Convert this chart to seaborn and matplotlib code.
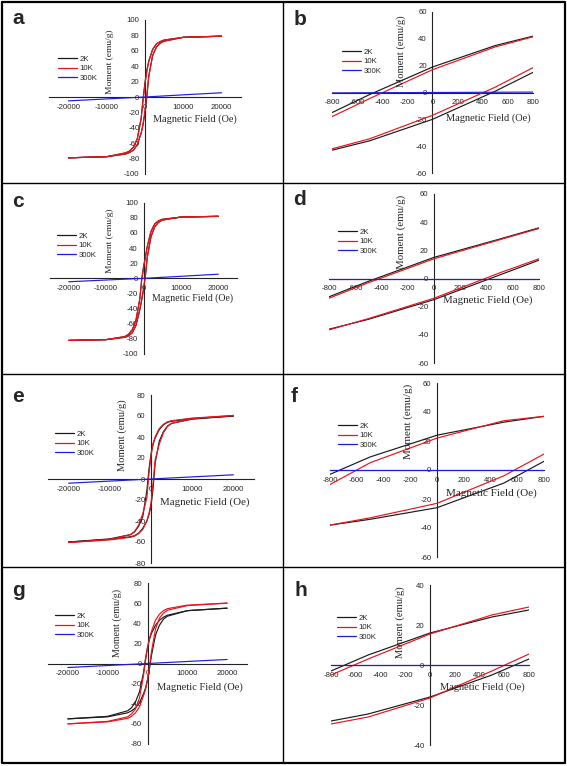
import matplotlib
matplotlib.use("Agg")
import matplotlib.pyplot as plt
from matplotlib.lines import Line2D
from matplotlib.ticker import MultipleLocator
import numpy as np
import pandas as pd
import seaborn as sns

# ---------------- data ----------------
H_FULL = [-20000, -10000, -5000, -4000, -3000, -2000, -1000, -500, 0,
          500, 1000, 2000, 3000, 4000, 5000, 10000, 20000]
H_ZOOM = [-800, -500, 0, 500, 800]
H_300_FULL = [-20000, -10000, 0, 10000, 20000]
H_300_ZOOM = [-800, 800]
TEMPS = ["2K", "10K", "300K"]

# panel a (full field)
A_2K_DOWN = [-79, -77.5, -72.5, -70, -65, -54, -28, -2, 19, 35, 47, 62, 69, 72, 74, 77.5, 79]
A_2K_UP = [-79, -77.5, -74, -72, -69, -62, -47, -36, -20, 1, 28, 54, 65, 70, 72.5, 77.5, 79]
A_10K_DOWN = [-79, -77.5, -72.5, -70, -65, -54, -27, -4.5, 17, 34, 46.5, 61.5, 69, 72, 74, 77.5, 79]
A_10K_UP = [-79, -77.5, -74, -72, -69, -61.5, -46.5, -34.5, -17, 4, 27, 54, 65, 70, 72.5, 77.5, 79]
A_300K = [-5, -2.5, 0, 2.8, 5.5]

# panel b (low field)
B_2K_DOWN = [-15, -1.5, 19, 35, 42]
B_2K_UP = [-43, -36, -20, 1, 15]
B_10K_DOWN = [-18, -4.5, 17, 34, 41.5]
B_10K_UP = [-42, -34.5, -17, 4, 18.5]
B_300K = [-0.3, 0.3]

# panel c (full field)
C_2K_DOWN = [-82, -81, -77, -74, -68, -55, -28, -2, 15, 28, 42, 62, 72, 76, 78, 81, 82]
C_2K_UP = [-82, -81, -78, -76, -72, -62, -42, -29, -15, 2.5, 28, 55, 68, 74, 77, 81, 82]
C_10K_DOWN = [-82, -81, -77, -74, -68, -55, -27, -3, 14, 27.5, 41.5, 62, 72, 76, 78, 81, 82]
C_10K_UP = [-82, -81, -78, -76, -72, -62, -41.5, -28.5, -14, 4, 27, 55, 68, 74, 77, 81, 82]
C_300K = [-4.5, -2.2, 0, 2.7, 5.5]

# panel d (low field)
D_2K_DOWN = [-13, -2, 15, 28, 36]
D_2K_UP = [-36, -29, -15, 2.5, 13]
D_10K_DOWN = [-14, -3, 14, 27.5, 35.5]
D_10K_UP = [-36.5, -28.5, -14, 4, 14]
D_300K = [0, 0]

# panel e (full field)
E_2K_DOWN = [-60, -57, -53, -50.5, -45, -36, -11, 9, 24, 33, 39, 47, 51.5, 54, 55, 57.5, 60]
E_2K_UP = [-60, -57.5, -55, -54, -51.5, -47, -40, -34, -26, -9, 15, 36, 45, 50.5, 53, 57, 60]
E_10K_DOWN = [-60.5, -57.5, -53, -50, -44, -33, -18, 5, 22, 34, 40, 48, 52, 54.5, 55.5, 58, 60.5]
E_10K_UP = [-60.5, -58, -55.5, -54.5, -52, -48, -40, -33, -23, -4, 18, 33, 44, 50, 53, 57.5, 60.5]
E_300K = [-4, -2, 0, 2, 4]

# panel f (low field)
F_2K_DOWN = [-3, 9, 24, 33, 37]
F_2K_UP = [-38, -34, -26, -9, 6]
F_10K_DOWN = [-10, 5, 22, 34, 37]
F_10K_UP = [-38, -33, -23, -4, 11]
F_300K = [0, 0]

# panel g (full field)
G_2K_DOWN = [-55, -52.5, -47, -44, -38, -28, -9, 5, 16, 24, 30, 38, 43, 46, 48, 52.5, 55]
G_2K_UP = [-55, -53, -49, -47, -44, -39, -30, -24.5, -16, -5, 8, 28, 38, 44, 47, 52.5, 55]
G_10K_DOWN = [-60, -57.5, -53, -50, -45, -34, -12, 3, 15.5, 25, 32, 43, 49, 52.5, 54.5, 58, 60]
G_10K_UP = [-60, -58, -54.5, -52.5, -49, -43, -32, -26, -16.5, -3, 12, 34, 45, 50, 53, 57.5, 60]
G_300K = [-4, -2, 0, 2, 4]

# panel h (low field)
PH_2K_DOWN = [-3, 5, 16, 24, 27.5]
PH_2K_UP = [-28, -24.5, -16, -5, 3]
PH_10K_DOWN = [-5, 3, 15.5, 25, 29]
PH_10K_UP = [-29.5, -26, -16.5, -3, 5.5]
PH_300K = [0, 0]

PANEL_LETTERS = ["a", "b", "c", "d", "e", "f", "g", "h"]
XLABEL = "Magnetic Field (Oe)"
YLABEL = "Moment (emu/g)"


def panel_frame(kind, d2, u2, d10, u10, p300):
    h = H_FULL if kind == "full" else H_ZOOM
    h3 = H_300_FULL if kind == "full" else H_300_ZOOM
    rows = []
    for temp, branch, hs, ms in [("2K", "down", h[::-1], d2[::-1]), ("2K", "up", h, u2),
                                 ("10K", "down", h[::-1], d10[::-1]), ("10K", "up", h, u10),
                                 ("300K", "single", h3, p300)]:
        for hv, mv in zip(hs, ms):
            rows.append((temp, branch, hv, mv))
    return pd.DataFrame(rows, columns=["T", "branch", "H", "M"])


DATA = [
    ("full", A_2K_DOWN, A_2K_UP, A_10K_DOWN, A_10K_UP, A_300K),
    ("zoom", B_2K_DOWN, B_2K_UP, B_10K_DOWN, B_10K_UP, B_300K),
    ("full", C_2K_DOWN, C_2K_UP, C_10K_DOWN, C_10K_UP, C_300K),
    ("zoom", D_2K_DOWN, D_2K_UP, D_10K_DOWN, D_10K_UP, D_300K),
    ("full", E_2K_DOWN, E_2K_UP, E_10K_DOWN, E_10K_UP, E_300K),
    ("zoom", F_2K_DOWN, F_2K_UP, F_10K_DOWN, F_10K_UP, F_300K),
    ("full", G_2K_DOWN, G_2K_UP, G_10K_DOWN, G_10K_UP, G_300K),
    ("zoom", PH_2K_DOWN, PH_2K_UP, PH_10K_DOWN, PH_10K_UP, PH_300K),
]

# ---------------- layout (pixels) ----------------
W, HGT = 567, 766
LAYOUT = [
    ((49.3, 20, 240.7, 174), 100, (110, 62, 6.8), (153, 119, 7.4), (58, 60), (12, 24)),
    ((332, 12, 533, 173), 60, (401, 51, 7.6), (446, 118, 7.5), (342, 53), (294, 25)),
    ((50, 202.7, 237, 354), 100, (110, 241, 6.8), (152, 298, 7.1), (57, 237), (12, 207)),
    ((329, 194, 539, 363), 60, (401, 232, 7.8), (443, 300, 7.8), (338, 233), (293, 205)),
    ((48, 395, 254, 563), 80, (122, 435, 7.6), (160, 502, 7.8), (55, 435), (12, 402)),
    ((330, 383, 544, 557), 60, (408, 421, 8.0), (446, 493, 8.0), (338, 427), (291, 402)),
    ((48, 583, 247, 744), 80, (117, 623, 7.2), (157, 687, 7.6), (55, 617), (12, 596)),
    ((331, 585, 529, 745), 40, (400, 622, 7.6), (440, 687, 7.5), (337, 619), (294, 596)),
]

COLORS = {"2K": "#1a1a1a", "10K": "#e8141c", "300K": "#1c1ce0"}

sns.set_style("white")
plt.rcParams["font.family"] = ["Liberation Sans", "DejaVu Sans"]
plt.rcParams["axes.unicode_minus"] = False

fig = plt.figure(figsize=(W / 100, HGT / 100), dpi=100)
fig.patch.set_facecolor("white")


def fx(px):
    return px / W


def fy(py):
    return 1 - py / HGT


for i, (spec, lay) in enumerate(zip(DATA, LAYOUT)):
    kind = spec[0]
    df = panel_frame(*spec)
    (l, t, r, b), ylim, mlab, flab, leg, let = lay
    ax = fig.add_axes([fx(l), fy(b), (r - l) / W, (b - t) / HGT])
    ax.set_facecolor("none")
    for temp in TEMPS:
        sub = df[df["T"] == temp]
        sns.lineplot(data=sub, x="H", y="M", units="branch", estimator=None, sort=False,
                     color=COLORS[temp], lw=0.85, ax=ax, legend=False, zorder=3)
    if kind == "full":
        ax.set_xlim(-25000, 25000)
        ax.xaxis.set_major_locator(MultipleLocator(10000))
        ax.xaxis.set_minor_locator(MultipleLocator(5000))
    else:
        ax.set_xlim(-800, 800)
        ax.xaxis.set_major_locator(MultipleLocator(200))
        ax.xaxis.set_minor_locator(MultipleLocator(100))
    ax.set_ylim(-ylim, ylim)
    ax.yaxis.set_major_locator(MultipleLocator(20))
    ax.yaxis.set_minor_locator(MultipleLocator(10))
    ax.spines["left"].set_position(("data", 0))
    ax.spines["bottom"].set_position(("data", 0))
    ax.spines["top"].set_visible(False)
    ax.spines["right"].set_visible(False)
    for s in ("left", "bottom"):
        ax.spines[s].set_linewidth(0.8)
        ax.spines[s].set_color("#222222")
    ax.tick_params(which="major", direction="out", length=2.8, width=0.7, labelsize=5.6,
                   pad=1.2, color="#222222")
    ax.tick_params(which="minor", direction="out", length=1.6, width=0.6, color="#222222")
    ax.tick_params(axis="x", which="major", pad=2.0)
    ax.set_xlabel("")
    ax.set_ylabel("")

    fig.text(fx(mlab[0]), fy(mlab[1]), YLABEL, rotation=90, ha="center", va="center",
             fontsize=mlab[2], family="Liberation Serif")
    fig.text(fx(flab[0]), fy(flab[1]), XLABEL, ha="left", va="center",
             fontsize=flab[2], family="Liberation Serif")
    handles = [Line2D([0], [0], color=COLORS[tp], lw=0.9) for tp in TEMPS]
    ax.legend(handles, TEMPS, loc="upper left", bbox_to_anchor=(fx(leg[0]), fy(leg[1] - 4.6)),
              bbox_transform=fig.transFigure, frameon=False, fontsize=5.6, handlelength=2.5,
              handletextpad=0.3, labelspacing=0.25, borderpad=0, borderaxespad=0)
    fig.text(fx(let[0]), fy(let[1]), PANEL_LETTERS[i], ha="left", va="baseline",
             fontsize=15, fontweight="bold", family="Liberation Sans")

# panel frames
frame_kw = dict(transform=fig.transFigure, color="black")
outer = [(1.5, 1.5), (564.5, 1.5), (564.5, 762.5), (1.5, 762.5), (1.5, 1.5)]
fig.add_artist(Line2D([fx(p[0]) for p in outer], [fy(p[1]) for p in outer], lw=1.6, **frame_kw))
fig.add_artist(Line2D([fx(282.7), fx(282.7)], [fy(1.5), fy(762.5)], lw=1.0, **frame_kw))
for yy in (183, 374, 567):
    fig.add_artist(Line2D([fx(1.5), fx(564.5)], [fy(yy), fy(yy)], lw=1.0, **frame_kw))

fig.savefig("out.png", dpi=100, facecolor="white")
